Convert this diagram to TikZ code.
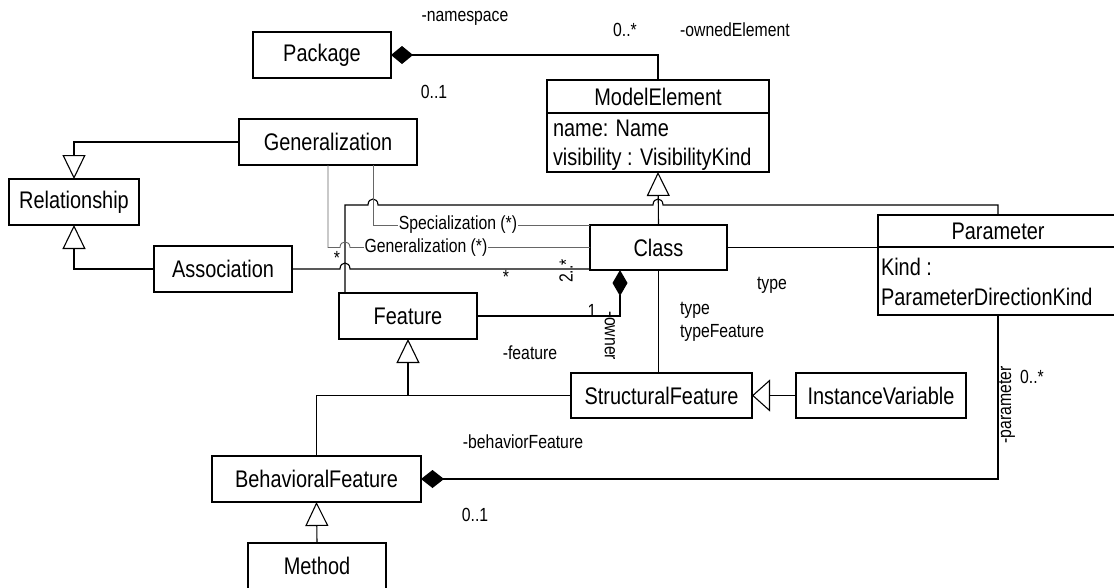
\documentclass[tikz,border=0pt]{standalone}
\usepackage{fontspec}
\setmainfont{Liberation Sans}
\newfontfamily\narrowsans{Liberation Sans}[FakeStretch=0.83]
\usetikzlibrary{arrows.meta}
\begin{document}
\begin{tikzpicture}[x=1pt,y=-1pt,
  every node/.style={inner sep=0pt, outer sep=0pt},
  umlbox/.style={draw, line width=1.1pt, minimum height=46pt, font=\narrowsans\fontsize{24}{28}\selectfont},
  boxtext/.style={font=\narrowsans\fontsize{24}{28}\selectfont},
  lbl/.style={font=\narrowsans\fontsize{19}{22}\selectfont},
  conn/.style={line width=1.1pt, line join=miter},
  gconn/.style={line width=0.9pt, draw=black!60},
  inh/.style={-{Triangle[open,length=24pt,width=23pt,line width=1.1pt]}},
  comp/.style={-{Diamond[length=#1,width=18pt]}},
]
\useasboundingbox (0,0) rectangle (1114,587);

% classes
\node[umlbox, minimum width=138pt] (pkg) at (322,55) {Package};
\node[umlbox, minimum width=178pt] (gen) at (328,142) {Generalization};
\node[umlbox, minimum width=130pt] (rel) at (74,202) {Relationship};
\node[umlbox, minimum width=138pt] (assoc) at (223,269) {Association};
\node[umlbox, minimum width=137pt, minimum height=45pt] (cls) at (658.5,247.5) {Class};
\node[umlbox, minimum width=138pt] (feat) at (408,316) {Feature};
\node[umlbox, minimum width=181pt, minimum height=45pt] (sf) at (661.5,395.5) {StructuralFeature};
\node[umlbox, minimum width=170pt, minimum height=45pt] (iv) at (881,395.5) {InstanceVariable};
\node[umlbox, minimum width=209pt] (bf) at (316.5,479) {BehavioralFeature};
\node[umlbox, minimum width=138pt] (meth) at (317,566) {Method};

% ModelElement with its attribute compartment
\node[draw, line width=1.1pt, minimum width=222pt, minimum height=92pt] (me) at (658,126) {};
\node[boxtext] (metitle) at (658,97) {ModelElement};
\draw[line width=1.1pt] (me.west |- 0,113) -- (me.east |- 0,113);
\node[boxtext, anchor=west] (mename) at (553,128) {name: Name};
\node[boxtext, anchor=west] (mevis) at (553,159) {visibility : VisibilityKind};

% Parameter with its attribute compartment
\node[draw, line width=1.1pt, minimum width=240pt, minimum height=100pt] (param) at (998,265) {};
\node[boxtext] (ptitle) at (998,231) {Parameter};
\draw[line width=1.1pt] (param.west |- 0,247) -- (param.east |- 0,247);
\node[boxtext, anchor=west] (pkind) at (881,267) {Kind :};
\node[boxtext, anchor=west] (pdir) at (881,297) {ParameterDirectionKind};

% Package owns ModelElement
\draw[conn, comp=22pt] (me.north) |- (pkg.east);

% generalizations
\draw[conn, inh] (gen.west) -| (rel.north);
\draw[conn, inh] (assoc.west) -| (rel.south);
\draw[conn, inh] (cls.north) -- (me.south);
\draw[conn, inh] (sf.west) -| (feat.south);
\draw[conn] (bf.north) |- (feat.south |- sf.west);
\draw[conn, -{Triangle[open,length=18pt,width=32pt,line width=1.1pt]}] (iv.west) -- (sf.east);
\draw[conn, inh] (meth.north) -- (bf.south);

% Feature / Parameter branch up to ModelElement, hopping over crossings
\draw[conn] ([xshift=6pt]feat.north west) -- (345,205) -- (368,205)
  .. controls (368,197) and (378,197) .. (378,205) -- (653,205)
  .. controls (653,197) and (663,197) .. (663,205) -- (998,205) -- (param.north);

% Generalization / Specialization links to Class
\draw[gconn] ([xshift=45pt]gen.south) -- (373,225) -- (cls.north west);
\node[lbl, fill=white, inner sep=1pt] (speclbl) at (458,225) {Specialization (*)};
\draw[gconn] (gen.south) -- (gen.south |- cls.west) -- (340,247.5)
  .. controls (340,240) and (350,240) .. (350,247.5) -- (cls.west);
\node[lbl, fill=white, inner sep=1pt] (genlbl) at (426,247.5) {Generalization (*)};

% Association to Class
\draw[conn] (assoc.east) -- (340,269)
  .. controls (340,261) and (350,261) .. (350,269) -- (cls.west |- assoc.east);

% Class to Parameter and StructuralFeature
\draw[conn] (cls.east) -- (param.west |- cls.east);
\draw[conn] (cls.south) -- (cls.south |- sf.north);

% Class owns Feature
\draw[conn, -{Diamond[length=26pt,width=15pt]}] (feat.east) -| ([xshift=-38.5pt]cls.south);

% BehavioralFeature owns Parameter
\draw[conn, comp=23pt] (param.south) |- (bf.east);

% role names and multiplicities
\node[lbl] (l1) at (465,18) {-namespace};
\node[lbl] (l2) at (625,30) {0..*};
\node[lbl] (l3) at (735,30) {-ownedElement};
\node[lbl] (l4) at (434,92) {0..1};
\node[lbl] (l5) at (337,258) {*};
\node[lbl] (l6) at (506,277) {*};
\node[lbl, rotate=90] (l7) at (566,271) {2..*};
\node[lbl] (l8) at (592,311) {1};
\node[lbl, rotate=-90] (l9) at (610,336) {-owner};
\node[lbl] (l10) at (530,353) {-feature};
\node[lbl] (l11) at (772,285) {type};
\node[lbl, anchor=west] (l12) at (680,310) {type};
\node[lbl, anchor=west] (l13) at (680,333) {typeFeature};
\node[lbl] (l14) at (523,442) {-behaviorFeature};
\node[lbl] (l15) at (475,515) {0..1};
\node[lbl, rotate=90] (l16) at (1007,405) {-parameter};
\node[lbl] (l17) at (1032,377) {0..*};
\end{tikzpicture}
\end{document}
